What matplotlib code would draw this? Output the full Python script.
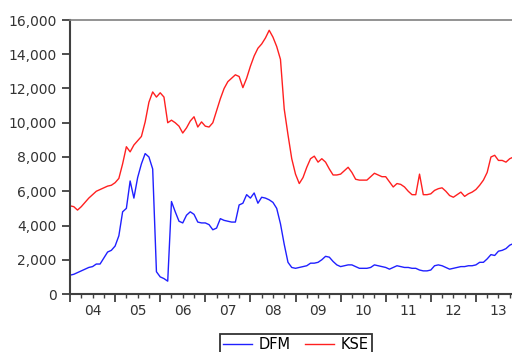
import matplotlib
matplotlib.use("Agg")
import matplotlib.pyplot as plt
from matplotlib.ticker import FuncFormatter
import numpy as np

# monthly values, 2004M01 .. 2013M12
dfm = [1100, 1150, 1250, 1350, 1450, 1550, 1600, 1750, 1750, 2100, 2450, 2550,
       2800, 3400, 4800, 5000, 6600, 5600, 6800, 7600, 8200, 8000, 7300, 1300,
       1000, 900, 750, 5400, 4800, 4250, 4150, 4600, 4800, 4650, 4200, 4150,
       4150, 4050, 3750, 3850, 4400, 4300, 4250, 4200, 4200, 5200, 5300, 5800,
       5600, 5900, 5300, 5650, 5600, 5500, 5350, 5000, 4100, 2900, 1850, 1550,
       1500, 1550, 1600, 1650, 1800, 1800, 1850, 2000, 2200, 2150, 1900, 1700,
       1600, 1650, 1700, 1700, 1600, 1500, 1500, 1500, 1550, 1700, 1650, 1600,
       1550, 1450, 1550, 1650, 1600, 1550, 1550, 1500, 1500, 1400, 1350, 1350,
       1400, 1650, 1700, 1650, 1550, 1450, 1500, 1550, 1600, 1600, 1650, 1650,
       1700, 1850, 1850, 2050, 2300, 2250, 2500, 2550, 2650, 2850, 2950, 3050]

kse = [5150, 5100, 4900, 5100, 5350, 5600, 5800, 6000, 6100, 6200, 6300, 6350,
       6500, 6750, 7600, 8600, 8300, 8700, 8950, 9200, 10050, 11200, 11800, 11500,
       11750, 11500, 10000, 10150, 10000, 9800, 9400, 9700, 10100, 10350, 9750, 10050,
       9800, 9750, 10000, 10700, 11400, 12000, 12400, 12600, 12800, 12700, 12050, 12600,
       13300, 13900, 14350, 14600, 14950, 15400, 15000, 14450, 13700, 10800, 9300, 7900,
       7000, 6450, 6800, 7400, 7900, 8050, 7700, 7900, 7700, 7300, 6950, 6950,
       7000, 7200, 7400, 7100, 6700, 6650, 6650, 6650, 6850, 7050, 6950, 6850,
       6850, 6550, 6250, 6450, 6400, 6250, 6000, 5800, 5800, 7000, 5800, 5800,
       5850, 6050, 6150, 6200, 6000, 5750, 5650, 5800, 5950, 5700, 5850, 5950,
       6100, 6350, 6650, 7100, 8000, 8100, 7800, 7800, 7700, 7900, 8000, 8050]

years = list(range(2004, 2014))
year_labels = ['04', '05', '06', '07', '08', '09', '10', '11', '12', '13']

t = 2004 + np.arange(len(dfm)) / 12.0

fig = plt.figure(figsize=(5.12, 3.52), dpi=100)
# axes runs past the right edge, the reference is cropped there
ax = fig.add_axes([70/512, 58/352, 451/512, 274/352])

l1, = ax.plot(t, dfm, color='#2020ff', lw=1.0)
l2, = ax.plot(t, kse, color='#ff2020', lw=1.0)

ax.set_xlim(2004, 2014)
ax.set_ylim(0, 16000)
ax.set_yticks(np.arange(0, 16001, 2000))
ax.yaxis.set_major_formatter(FuncFormatter(lambda v, p: f"{int(v):,}"))

# year ticks, quarterly minor ticks, labels in the middle of each year
ax.set_xticks(years + [2014])
ax.set_xticklabels([''] * (len(years) + 1))
minor = []
minor_labels = []
for y, lab in zip(years, year_labels):
    for q in (0.25, 0.5, 0.75):
        minor.append(y + q)
        minor_labels.append(lab if q == 0.5 else '')
ax.set_xticks(minor, minor=True)
ax.set_xticklabels(minor_labels, minor=True)

ax.tick_params(axis='both', which='major', length=6, width=1.3, color='#404040',
               labelsize=10, labelcolor='#333333')
ax.tick_params(axis='x', which='minor', length=3, width=1.0, color='#404040',
               labelsize=10, labelcolor='#333333', pad=4)
ax.tick_params(axis='x', which='major', pad=4)

for s in ax.spines.values():
    s.set_color('#404040')
    s.set_linewidth(1.5)
ax.spines['top'].set_color('#808080')
ax.spines['top'].set_linewidth(1.2)

leg = fig.legend([l1, l2], ['DFM', 'KSE'], loc='upper center', ncol=2,
                 bbox_to_anchor=(296/512, 1 - 334/352), borderaxespad=0,
                 fancybox=False, edgecolor='#333333', framealpha=1, fontsize=10.5,
                 handlelength=2.0, handletextpad=0.45, columnspacing=1.0,
                 borderpad=0.2)
leg.get_frame().set_linewidth(1.3)

plt.savefig("out.png", dpi=100)
